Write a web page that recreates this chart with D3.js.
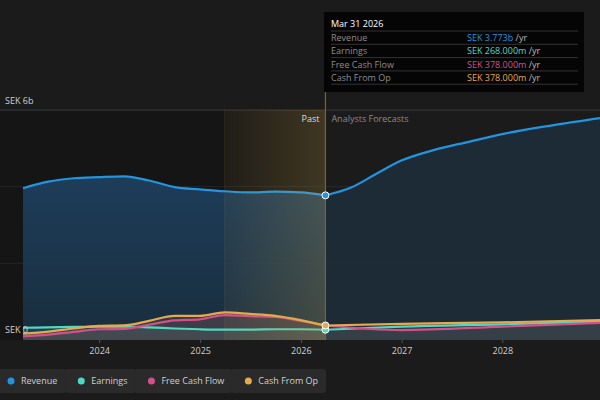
<!DOCTYPE html>
<html>
<head>
<meta charset="utf-8">
<script src="https://cdn.jsdelivr.net/npm/d3@7"></script>
<style>
  html, body { margin: 0; padding: 0; background: #1b1b1b; }
  svg { display: block; font-family: "Open Sans", sans-serif; }
</style>
</head>
<body>
<div id="chart"></div>
<script>
const width = 600;
const height = 400;

// ===== DATA (SEK, billions) =====
const pastDates = ["2023-03-31", "2023-06-30", "2023-09-30", "2023-12-31", "2024-03-31", "2024-06-30",
    "2024-09-30", "2024-12-31", "2025-03-31", "2025-06-30", "2025-09-30", "2025-12-31", "2026-03-31"];
const pastRevenue = [3.96, 4.13, 4.22, 4.25, 4.27, 4.16, 3.99, 3.93, 3.88, 3.85, 3.87, 3.85, 3.773];
const pastEarnings = [0.32, 0.33, 0.34, 0.35, 0.35, 0.33, 0.30, 0.28, 0.27, 0.27, 0.28, 0.28, 0.268];
const pastFcf = [0.095, 0.14, 0.21, 0.28, 0.29, 0.40, 0.51, 0.54, 0.65, 0.62, 0.60, 0.50, 0.378];
const pastCfo = [0.165, 0.22, 0.30, 0.37, 0.38, 0.50, 0.63, 0.63, 0.72, 0.68, 0.63, 0.52, 0.378];

const revForecastDates = ["2026-03-31", "2026-06-30", "2026-09-30", "2026-12-31", "2027-04-30",
    "2027-09-01", "2027-12-31", "2028-06-30", "2028-12-31"];
const revForecast = [3.773, 3.97, 4.33, 4.68, 4.96, 5.17, 5.37, 5.60, 5.80];

const fcForecastDates = ["2026-03-31", "2026-12-31", "2027-12-31", "2028-12-31"];
const earnForecast = [0.268, 0.35, 0.41, 0.48];
const fcfForecast = [0.378, 0.26, 0.35, 0.45];
const cfoForecast = [0.378, 0.42, 0.46, 0.52];

const yearTicks = ["2024", "2025", "2026", "2027", "2028"];

const tooltipTitle = "Mar 31 2026";
const tooltipRows = [
    { label: "Revenue", value: "SEK 3.773b", color: "#2394df" },
    { label: "Earnings", value: "SEK 268.000m", color: "#4fd8c2" },
    { label: "Free Cash Flow", value: "SEK 378.000m", color: "#d2508c" },
    { label: "Cash From Op", value: "SEK 378.000m", color: "#e8a94c" },
];

const legendItems = [
    { label: "Revenue", color: "#2394df" },
    { label: "Earnings", color: "#4fd8c2" },
    { label: "Free Cash Flow", color: "#d2508c" },
    { label: "Cash From Op", color: "#e8a94c" },
];

const parse = d3.timeParse("%Y-%m-%d");
const zip = (dates, vals) => dates.map((d, i) => ({ date: parse(d), v: vals[i] }));

const series = [
    { key: "rev", color: "#2394df", past: zip(pastDates, pastRevenue), fc: zip(revForecastDates, revForecast) },
    { key: "earn", color: "#4fd8c2", past: zip(pastDates, pastEarnings), fc: zip(fcForecastDates, earnForecast) },
    { key: "fcf", color: "#d2508c", past: zip(pastDates, pastFcf), fc: zip(fcForecastDates, fcfForecast) },
    { key: "cfo", color: "#e8a94c", past: zip(pastDates, pastCfo), fc: zip(fcForecastDates, cfoForecast) },
];

const plot = { top: 110, bottom: 340, left: 0, right: 600 };
const nowDate = parse("2026-03-31");
const pastStart = parse("2025-03-31");

// ===== SCALES =====
const x = d3.scaleTime()
    .domain([parse("2023-03-31"), parse("2028-12-20")])
    .range([23, 600]);

const y = d3.scaleLinear()
    .domain([0, 6])
    .range([plot.bottom, plot.top]);

const svg = d3.select("#chart")
    .append("svg")
    .attr("width", width)
    .attr("height", height);

const defs = svg.append("defs");

defs.append("clipPath").attr("id", "plotClip")
    .append("rect")
    .attr("x", 0).attr("y", 0)
    .attr("width", width).attr("height", plot.bottom);

const pastGlow = defs.append("linearGradient").attr("id", "pastGlow")
    .attr("x1", 0).attr("x2", 1).attr("y1", 0).attr("y2", 0);
pastGlow.append("stop").attr("offset", "0%").attr("stop-color", "#c9a24a").attr("stop-opacity", 0.06);
pastGlow.append("stop").attr("offset", "100%").attr("stop-color", "#c9a24a").attr("stop-opacity", 0.24);

const revGrad = defs.append("linearGradient").attr("id", "revGrad")
    .attr("x1", 0).attr("x2", 0).attr("y1", 0).attr("y2", 1);
revGrad.append("stop").attr("offset", "0%").attr("stop-color", "#1f4466").attr("stop-opacity", 0.85);
revGrad.append("stop").attr("offset", "100%").attr("stop-color", "#1a3448").attr("stop-opacity", 0.8);

// ===== BACKGROUNDS =====
svg.append("rect")
    .attr("x", plot.left).attr("y", plot.top)
    .attr("width", x(nowDate) - plot.left)
    .attr("height", plot.bottom - plot.top)
    .attr("fill", "#151515");

// ===== GRID =====
svg.selectAll(".grid")
    .data([2, 4])
    .enter()
    .append("line")
    .attr("x1", plot.left).attr("x2", plot.right)
    .attr("y1", (d) => y(d)).attr("y2", (d) => y(d))
    .attr("stroke", "#ffffff")
    .attr("stroke-opacity", 0.07);

svg.append("line")
    .attr("x1", 0).attr("x2", width)
    .attr("y1", y(6)).attr("y2", y(6))
    .attr("stroke", "#3b3b3b");

// ===== AREAS & LINES =====
const area = d3.area()
    .x((d) => x(d.date))
    .y0(y(0))
    .y1((d) => y(d.v))
    .curve(d3.curveMonotoneX);

const line = d3.line()
    .x((d) => x(d.date))
    .y((d) => y(d.v))
    .curve(d3.curveMonotoneX);

const g = svg.append("g").attr("clip-path", "url(#plotClip)");

// revenue
g.append("path").datum(series[0].past).attr("d", area).attr("fill", "url(#revGrad)");
g.append("path").datum(series[0].fc).attr("d", area).attr("fill", "#1d2e3b").attr("fill-opacity", 0.85);

// small series
series.slice(1).forEach((s) => {
    g.append("path").datum(s.past).attr("d", area).attr("fill", s.color).attr("fill-opacity", 0.1);
    g.append("path").datum(s.fc).attr("d", area).attr("fill", "#888888").attr("fill-opacity", 0.08);
});
series.forEach((s) => {
    g.append("path").datum(s.past).attr("d", line)
        .attr("fill", "none").attr("stroke", s.color).attr("stroke-width", 2.2);
    g.append("path").datum(s.fc).attr("d", line)
        .attr("fill", "none").attr("stroke", s.color).attr("stroke-width", 2.2);
});

// past highlight band
svg.append("rect")
    .attr("x", x(pastStart)).attr("y", plot.top)
    .attr("width", x(nowDate) - x(pastStart))
    .attr("height", plot.bottom - plot.top)
    .attr("fill", "url(#pastGlow)");

svg.append("line")
    .attr("x1", x(pastStart)).attr("x2", x(pastStart))
    .attr("y1", plot.top).attr("y2", plot.bottom)
    .attr("stroke", "#c9a24a").attr("stroke-opacity", 0.12);

// now line
svg.append("line")
    .attr("x1", x(nowDate)).attr("x2", x(nowDate))
    .attr("y1", 92).attr("y2", plot.bottom)
    .attr("stroke", "#7a6430").attr("stroke-width", 1.2);

// dots at now
const nowPoints = series.map((s) => ({ color: s.color, v: s.past[s.past.length - 1].v }));
svg.selectAll(".dot")
    .data([nowPoints[0], nowPoints[1], nowPoints[3]])
    .enter()
    .append("circle")
    .attr("cx", x(nowDate))
    .attr("cy", (d) => y(d.v))
    .attr("r", 3.5)
    .attr("fill", (d) => d.color)
    .attr("stroke", "#ffffff")
    .attr("stroke-width", 1);

// ===== AXES =====
const xAxis = svg.append("g")
    .attr("transform", `translate(0,${plot.bottom})`)
    .call(d3.axisBottom(x)
        .tickValues(yearTicks.map((d) => parse(d + "-01-01")))
        .tickSize(3)
        .tickPadding(5)
        .tickFormat(d3.timeFormat("%Y")));
xAxis.select(".domain").remove();
xAxis.selectAll("line").attr("stroke", "#555");
xAxis.selectAll("text")
    .attr("fill", "#cfcfcf")
    .style("font-size", "9px")
    .style("font-family", "Open Sans, sans-serif");

svg.append("text")
    .attr("x", 5).attr("y", 104)
    .attr("fill", "#d0d0d0")
    .style("font-size", "9px")
    .text("SEK 6b");

svg.append("text")
    .attr("x", 5).attr("y", 333)
    .attr("fill", "#d0d0d0")
    .style("font-size", "9px")
    .text("SEK 0");

svg.append("text")
    .attr("x", x(nowDate) - 6).attr("y", 122)
    .attr("text-anchor", "end")
    .attr("fill", "#dddddd")
    .style("font-size", "9px")
    .text("Past");

svg.append("text")
    .attr("x", x(nowDate) + 6).attr("y", 122)
    .attr("fill", "#8a8a8a")
    .style("font-size", "9px")
    .text("Analysts Forecasts");

// ===== TOOLTIP =====
const tip = svg.append("g").attr("transform", "translate(324,12)");
tip.append("rect").attr("width", 260).attr("height", 80).attr("fill", "#050505");
tip.append("text")
    .attr("x", 7).attr("y", 14.5)
    .attr("fill", "#ffffff")
    .style("font-size", "9px")
    .style("font-weight", 500)
    .text(tooltipTitle);

tooltipRows.forEach((r, i) => {
    const ty = 19 + i * 13.3;
    tip.append("line")
        .attr("x1", 7).attr("x2", 254)
        .attr("y1", ty).attr("y2", ty)
        .attr("stroke", "#333");
    tip.append("text")
        .attr("x", 7).attr("y", ty + 10)
        .attr("fill", "#8d8d8d")
        .style("font-size", "9px")
        .text(r.label);
    const t = tip.append("text")
        .attr("x", 143).attr("y", ty + 10)
        .style("font-size", "9px");
    t.append("tspan").attr("fill", r.color).text(r.value);
    t.append("tspan").attr("fill", "#bbbbbb").text(" /yr");
});
tip.append("line")
    .attr("x1", 7).attr("x2", 254)
    .attr("y1", 19 + 4 * 13.3).attr("y2", 19 + 4 * 13.3)
    .attr("stroke", "#333");

// ===== LEGEND =====
const legend = svg.append("g").attr("transform", "translate(0,369)");
let lx = 0;
legendItems.forEach((item) => {
    const gItem = legend.append("g").attr("transform", `translate(${lx},0)`);
    const label = gItem.append("text")
        .attr("x", 21).attr("y", 15)
        .attr("fill", "#d0d0d0")
        .style("font-size", "9px")
        .text(item.label);
    const w = label.node().getComputedTextLength() + 29;
    gItem.insert("rect", "text")
        .attr("x", -6).attr("y", 0)
        .attr("width", w + 6).attr("height", 24)
        .attr("rx", 3)
        .attr("fill", "#2a2a2a");
    gItem.append("circle")
        .attr("cx", 11).attr("cy", 12)
        .attr("r", 3.5)
        .attr("fill", item.color);
    lx += w + 5;
});
</script>
</body>
</html>
